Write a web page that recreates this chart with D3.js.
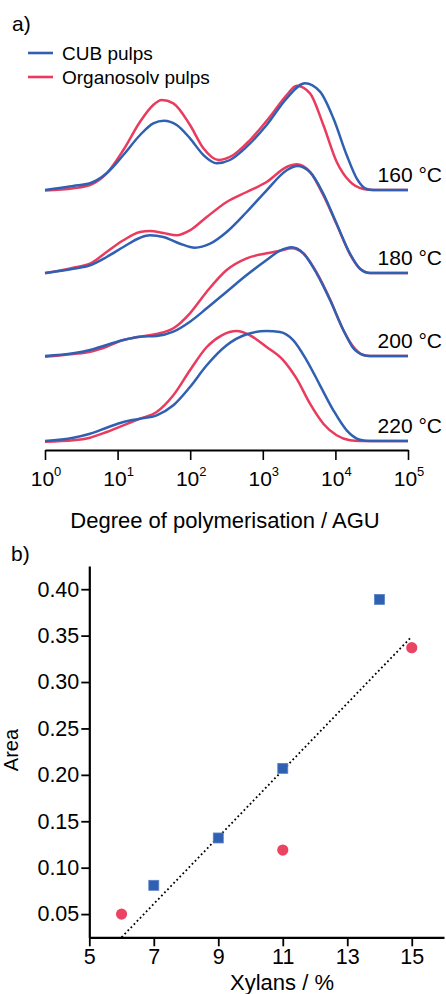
<!DOCTYPE html>
<html><head><meta charset="utf-8">
<script src="https://cdn.jsdelivr.net/npm/d3@7"></script>
<style>
body{margin:0;background:#fff}
svg{display:block}
text{font-family:"Liberation Sans",Arial,sans-serif;fill:#000}
</style>
</head><body><svg id="c" width="446" height="994"></svg>
<script>
// ---------- Panel a data (DP = degree of polymerisation, I = relative intensity) ----------
const temps = ["160 °C", "180 °C", "200 °C", "220 °C"];
const seriesNames = ["CUB pulps", "Organosolv pulps"];
const majorDP = [1, 10, 100, 1000, 10000, 100000];
const majorExp = ["0", "1", "2", "3", "4", "5"];

const cub160DP = [1, 2.45, 4.17, 7.06, 12.0, 20.4, 31.0, 43.6, 65.2, 99.3, 152, 232, 353, 600, 1130, 2133, 3811, 6138, 9376, 14290, 19630, 26980, 33270, 100000];
const cub160I  = [0, 0.04, 0.067, 0.167, 0.35, 0.55, 0.667, 0.693, 0.65, 0.517, 0.35, 0.267, 0.30, 0.433, 0.65, 0.917, 1.067, 0.983, 0.717, 0.35, 0.117, 0.01, 0, 0];
const org160DP = [1, 2.45, 4.17, 7.06, 12.0, 20.4, 31.0, 40.5, 58.6, 99.3, 152, 244, 393, 667, 1256, 2133, 2924, 4467, 6823, 10400, 15890, 24270, 33270, 100000];
const org160I  = [-0.005, 0.017, 0.05, 0.167, 0.40, 0.683, 0.85, 0.90, 0.867, 0.65, 0.417, 0.30, 0.35, 0.50, 0.733, 0.95, 1.043, 0.967, 0.65, 0.283, 0.083, 0.01, 0, 0];

const cub180DP = [1, 2.45, 4.17, 7.06, 12.0, 20.4, 27.9, 42.7, 72.4, 116, 188, 318, 600, 1130, 2133, 2992, 4467, 6823, 10400, 15890, 21830, 29990, 100000];
const cub180I  = [0, 0.043, 0.077, 0.16, 0.26, 0.353, 0.377, 0.36, 0.293, 0.253, 0.293, 0.41, 0.61, 0.827, 1.027, 1.07, 1.01, 0.793, 0.493, 0.193, 0.043, 0, 0];
const org180DP = [1, 2.45, 4.17, 7.06, 12.0, 20.4, 27.9, 42.7, 65.2, 99.3, 169, 318, 600, 1130, 2133, 2924, 4467, 6823, 10400, 15890, 21830, 29990, 100000];
const org180I  = [-0.003, 0.053, 0.093, 0.21, 0.327, 0.41, 0.42, 0.40, 0.377, 0.427, 0.56, 0.71, 0.81, 0.91, 1.06, 1.087, 1.01, 0.777, 0.487, 0.187, 0.043, 0, 0];

const cub200DP = [1, 2.45, 4.17, 7.06, 12.0, 20.4, 34.5, 58.6, 99.3, 169, 318, 600, 1130, 1726, 2500, 3614, 5521, 8433, 12850, 17660, 24270, 29990, 100000];
const cub200I  = [0, 0.027, 0.06, 0.11, 0.16, 0.193, 0.20, 0.243, 0.343, 0.477, 0.643, 0.81, 0.96, 1.053, 1.087, 1.027, 0.827, 0.56, 0.26, 0.077, 0.01, 0, 0];
const org200DP = [1, 2.45, 4.17, 7.06, 12.0, 20.4, 34.5, 58.6, 99.3, 169, 318, 600, 1130, 1726, 2500, 3614, 5521, 8433, 12850, 17660, 24270, 29990, 100000];
const org200I  = [-0.007, 0.02, 0.043, 0.093, 0.16, 0.193, 0.22, 0.277, 0.427, 0.643, 0.86, 0.977, 1.027, 1.053, 1.077, 1.027, 0.833, 0.567, 0.26, 0.093, 0.01, 0, 0];

const cub220DP = [1, 2.45, 4.17, 7.06, 12.0, 20.4, 34.5, 58.6, 99.3, 169, 318, 600, 1130, 1726, 2636, 4018, 6138, 9376, 14290, 21830, 29990, 100000];
const cub220I  = [0, 0.033, 0.073, 0.133, 0.19, 0.223, 0.257, 0.357, 0.54, 0.757, 0.957, 1.067, 1.10, 1.09, 1.007, 0.807, 0.557, 0.307, 0.107, 0.013, 0, 0];
const org220DP = [1, 2.45, 4.17, 7.06, 12.0, 20.4, 34.5, 58.6, 99.3, 169, 272, 437, 667, 1130, 1919, 2924, 4467, 6823, 10400, 15890, 21830, 100000];
const org220I  = [-0.007, 0.007, 0.033, 0.09, 0.157, 0.223, 0.29, 0.457, 0.707, 0.94, 1.057, 1.10, 1.057, 0.94, 0.807, 0.623, 0.373, 0.173, 0.057, 0.007, 0, 0];

// ---------- Panel b data ----------
const xTicksB = [5, 7, 9, 11, 13, 15];
const yTicksB = [0.05, 0.10, 0.15, 0.20, 0.25, 0.30, 0.35, 0.40];
const cubXyl = [7, 9, 11, 14];
const cubArea = [0.081, 0.132, 0.207, 0.389];
const orgXyl = [6, 11, 15];
const orgArea = [0.050, 0.119, 0.337];
const fitXyl = [6, 15];
const fitArea = [0.025, 0.349];

// ---------- drawing ----------
const BLUE = "#2F60B2", RED = "#EA3B5E";
const svg = d3.select("#c");

// Panel a
const xA = d3.scaleLog().domain([1, 1e5]).range([45, 408]);
const baselines = [190, 273, 356, 441];
const curves = [
  [[org160DP, org160I], [cub160DP, cub160I]],
  [[org180DP, org180I], [cub180DP, cub180I]],
  [[org200DP, org200I], [cub200DP, cub200I]],
  [[org220DP, org220I], [cub220DP, cub220I]]
];
const colorsOC = [RED, BLUE];

svg.append("text").attr("x", 12).attr("y", 31).attr("font-size", 21).text("a)");

// legend
const legY = [53, 77];
const legCol = [BLUE, RED];
seriesNames.forEach((n, i) => {
  svg.append("line").attr("x1", 28).attr("x2", 53).attr("y1", legY[i]).attr("y2", legY[i])
    .attr("stroke", legCol[i]).attr("stroke-width", 2.6);
  svg.append("text").attr("x", 62).attr("y", legY[i] + 7).attr("font-size", 19).text(n);
});

temps.forEach((t, k) => {
  const yA = d3.scaleLinear().domain([0, 1]).range([baselines[k], baselines[k] - 100]);
  const line = d3.line().x(d => xA(d[0])).y(d => yA(d[1])).curve(d3.curveMonotoneX);
  curves[k].forEach((c, j) => {
    const pts = c[0].map((v, i) => [v, c[1][i]]);
    svg.append("path").attr("d", line(pts)).attr("fill", "none")
      .attr("stroke", colorsOC[j]).attr("stroke-width", 2.5).attr("stroke-linejoin", "round");
  });
  svg.append("text").attr("x", 442).attr("y", baselines[k] - 8).attr("text-anchor", "end")
    .attr("font-size", 21).text(t);
});

const minorDP = [];
for (let d = 0; d < 5; d++) for (let k = 2; k <= 9; k++) minorDP.push(k * Math.pow(10, d));

const gA = svg.append("g").attr("transform", "translate(0,450)");
gA.call(d3.axisBottom(xA).tickValues(minorDP).tickSize(5).tickSizeOuter(0).tickFormat(""));
gA.call(d3.axisBottom(xA).tickValues(majorDP).tickSize(10).tickSizeOuter(0).tickFormat(""));
gA.selectAll(".domain").attr("stroke-width", 2).attr("stroke", "#000");
gA.selectAll(".tick line").attr("stroke-width", 1.6).attr("stroke", "#000");

majorDP.forEach((v, i) => {
  const t = svg.append("text").attr("x", xA(v) + 1).attr("y", 486).attr("text-anchor", "middle").attr("font-size", 21);
  t.append("tspan").text("10");
  t.append("tspan").attr("font-size", 13).attr("dy", -10).text(majorExp[i]);
});
svg.append("text").attr("x", 225).attr("y", 528).attr("text-anchor", "middle").attr("font-size", 22)
  .text("Degree of polymerisation / AGU");

// Panel b
const xB = d3.scaleLinear().domain([5, 16]).range([89.3, 444]);
const yB = d3.scaleLinear().domain([0.025, 0.425]).range([937.3, 566]);

svg.append("text").attr("x", 11).attr("y", 561).attr("font-size", 21).text("b)");

const gy = svg.append("g").attr("transform", "translate(89.3,0)");
gy.call(d3.axisLeft(yB).tickValues(d3.range(0.075, 0.43, 0.05)).tickSize(4).tickSizeOuter(0).tickFormat(""));
gy.call(d3.axisLeft(yB).tickValues(yTicksB).tickSize(8).tickSizeOuter(0).tickPadding(2).tickFormat(d3.format(".2f")));
const gx = svg.append("g").attr("transform", "translate(0,937.3)");
gx.call(d3.axisBottom(xB).tickValues([6, 8, 10, 12, 14, 16]).tickSize(5).tickSizeOuter(0).tickFormat(""));
gx.call(d3.axisBottom(xB).tickValues(xTicksB).tickSize(9).tickSizeOuter(0).tickPadding(2).tickFormat(d3.format("d")));
[gx, gy].forEach(g => {
  g.selectAll(".domain").attr("stroke-width", 2.2).attr("stroke", "#000");
  g.selectAll(".tick line").attr("stroke-width", 1.8).attr("stroke", "#000");
  g.selectAll(".tick text").attr("font-size", 21.5).attr("font-family", '"Liberation Sans",Arial,sans-serif').attr("fill", "#000");
});

svg.append("text").attr("transform", "translate(18,750) rotate(-90)").attr("text-anchor", "middle")
  .attr("font-size", 20).text("Area");
svg.append("text").attr("x", 282).attr("y", 990).attr("text-anchor", "middle").attr("font-size", 22)
  .text("Xylans / %");

// fit line
svg.append("path")
  .attr("d", d3.line().x(d => xB(d[0])).y(d => yB(d[1]))(fitXyl.map((v, i) => [v, fitArea[i]])))
  .attr("stroke", "#000").attr("stroke-width", 1.8).attr("stroke-dasharray", "1.8,2.6").attr("fill", "none");

// markers
svg.selectAll("rect.cub").data(cubXyl.map((v, i) => [v, cubArea[i]])).enter().append("rect")
  .attr("x", d => xB(d[0]) - 5).attr("y", d => yB(d[1]) - 5).attr("width", 10).attr("height", 10)
  .attr("fill", BLUE).attr("stroke", "#5b82c6").attr("stroke-width", 0.8);
svg.selectAll("circle.org").data(orgXyl.map((v, i) => [v, orgArea[i]])).enter().append("circle")
  .attr("cx", d => xB(d[0])).attr("cy", d => yB(d[1])).attr("r", 5.6).attr("fill", "#EB4463");
</script></body></html>
